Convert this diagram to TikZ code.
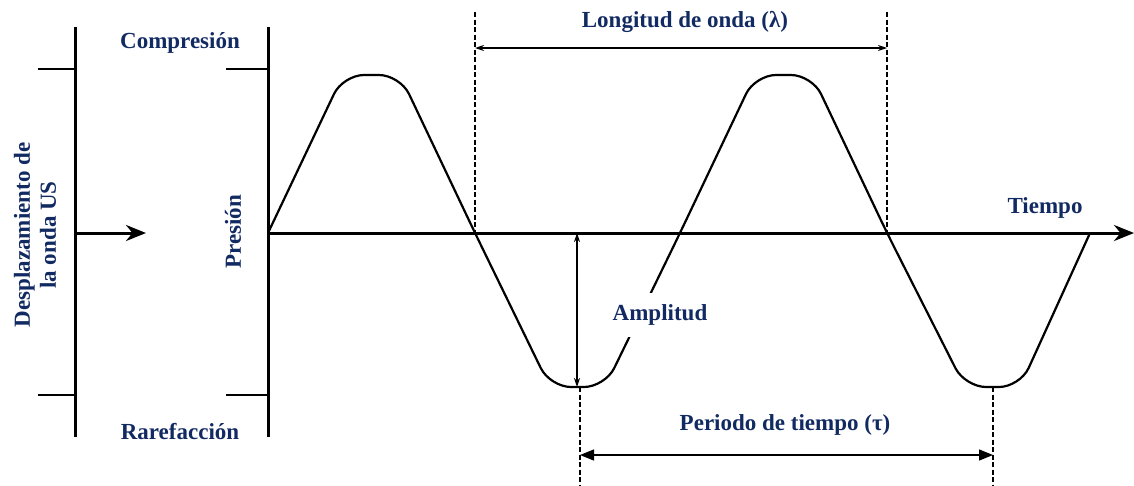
\documentclass[tikz,border=0pt]{standalone}
\usepackage{fontspec}
\setmainfont{Liberation Serif}
\usetikzlibrary{arrows.meta}
\definecolor{navy}{RGB}{18,42,98}
\begin{document}
\begin{tikzpicture}[x=1pt,y=-1pt,
  lbl/.style={font=\bfseries\fontsize{23}{26}\selectfont, text=navy, inner sep=1pt},
  axisline/.style={line width=3pt},
  tickline/.style={line width=2pt},
  wave/.style={line width=2.2pt, rounded corners=21pt, line join=round},
  guide/.style={line width=2pt, dash pattern=on 5pt off 2.5pt},
  dimthin/.style={line width=1.3pt, {Stealth[length=9pt,width=6pt]}-{Stealth[length=9pt,width=6pt]}},
  dimbig/.style={line width=1.3pt, {Triangle[length=14pt,width=11pt]}-{Triangle[length=14pt,width=11pt]}},
]
\useasboundingbox (0,0) rectangle (1134,485);

% left displacement axis
\coordinate (a1t) at (75,27);
\coordinate (a1b) at (75,437);
\coordinate (t1u) at (38,69);   \coordinate (t1uE) at (75,69);
\coordinate (t1d) at (38,395);  \coordinate (t1dE) at (75,395);
\coordinate (a1o) at (75,233);  \coordinate (a1h) at (146,233);
\draw[axisline] (a1t) -- (a1b);
\draw[tickline] (t1u) -- (t1uE);
\draw[tickline] (t1d) -- (t1dE);
\draw[axisline, -{Stealth[length=20pt,width=16pt]}] (a1o) -- (a1h);

% pressure axis
\coordinate (a2t) at (268,27);
\coordinate (a2b) at (268,437);
\coordinate (t2u) at (226,69);  \coordinate (t2uE) at (268,69);
\coordinate (t2d) at (226,395); \coordinate (t2dE) at (268,395);
\coordinate (o) at (268,233);   \coordinate (tend) at (1134,233);
\draw[axisline] (a2t) -- (a2b);
\draw[tickline] (t2u) -- (t2uE);
\draw[tickline] (t2d) -- (t2dE);

% wave
\draw[wave] (268,233) -- (343,75) -- (400,75) -- (475,233) -- (550,387) -- (605,387)
  -- (680,233) -- (755,75) -- (812,75) -- (887,233) -- (965,387) -- (1020,387) -- (1090,233);

% time axis
\draw[axisline, -{Stealth[length=20pt,width=16pt]}] (o) -- (tend);

% wavelength
\coordinate (w1t) at (475,12);  \coordinate (w1b) at (475,233);
\coordinate (w2t) at (887,12);  \coordinate (w2b) at (887,233);
\coordinate (w1a) at (475,48);  \coordinate (w2a) at (887,48);
\draw[guide] (w1t) -- (w1b);
\draw[guide] (w2t) -- (w2b);
\draw[dimthin] (w1a) -- (w2a);

% amplitude
\coordinate (amt) at (577,233); \coordinate (amb) at (577,387);
\draw[dimthin] (amt) -- (amb);

% period
\coordinate (p1t) at (580,387); \coordinate (p1b) at (580,485);
\coordinate (p2t) at (993,387); \coordinate (p2b) at (993,485);
\coordinate (p1a) at (580,455); \coordinate (p2a) at (993,455);
\draw[guide] (p1t) -- (p1b);
\draw[guide] (p2t) -- (p2b);
\draw[dimbig] (p1a) -- (p2a);

% labels
\node[lbl] (comp) at (180,43) {Compresión};
\node[lbl] (rare) at (180,432) {Rarefacción};
\node[lbl, rotate=90] (pres) at (233,232) {Presión};
\node[lbl, rotate=90, align=center] (desp) at (35,235) {Desplazamiento de\\la onda US};
\node[lbl] (tiem) at (1045,208) {Tiempo};
\node[lbl] (long) at (685,22) {Longitud de onda (λ)};
\node[lbl, fill=white, inner xsep=4pt, inner ysep=12pt] (ampl) at (660,315) {Amplitud};
\node[lbl] (peri) at (785,425) {Periodo de tiempo (τ)};
\end{tikzpicture}
\end{document}
